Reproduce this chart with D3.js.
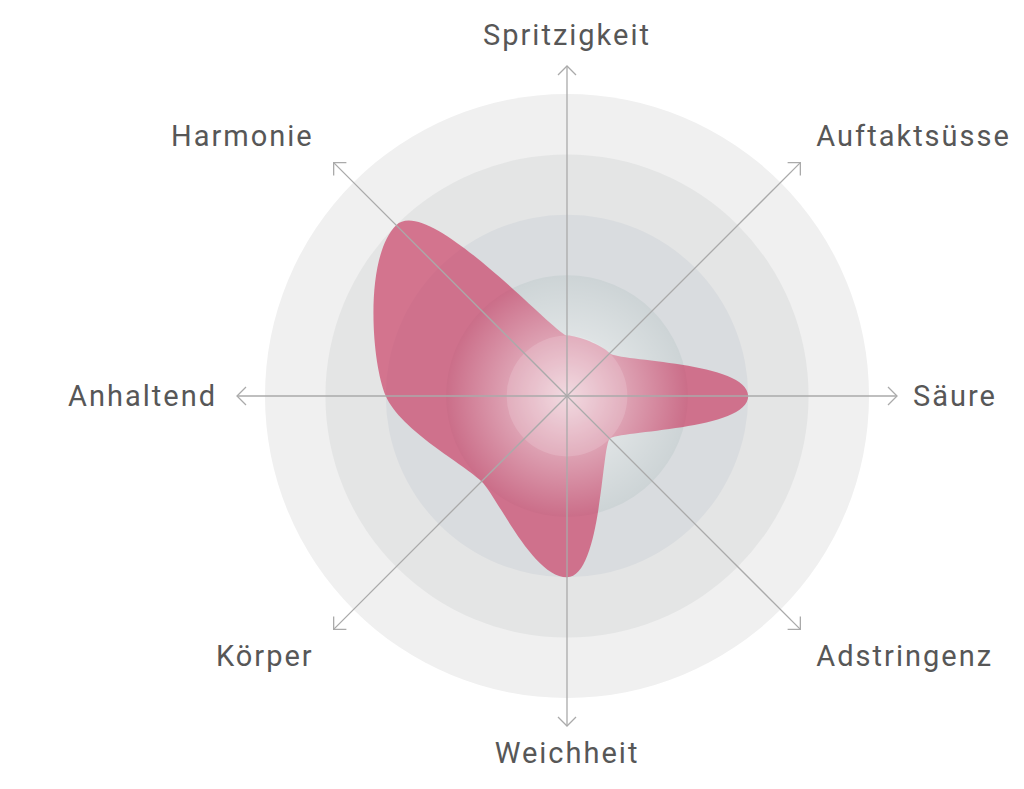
<!DOCTYPE html>
<html>
<head>
<meta charset="utf-8">
<script src="https://cdn.jsdelivr.net/npm/d3@7"></script>
<style>
  body { margin: 0; background: #fff; }
  svg { display: block; }
</style>
</head>
<body>
<svg width="1024" height="789"></svg>
<script>
// axes, clockwise from the top
var axes = ["Spritzigkeit", "Auftaktsüsse", "Säure", "Adstringenz",
            "Weichheit", "Körper", "Anhaltend", "Harmonie"];
var values = [1, 1, 3, 1, 3, 2, 3, 4];
var levels = [5, 4, 3, 2];
var levelColors = ["#f0f0f0", "#e4e5e5", "#d9dcdf", "#cdd4d6"];

var svg = d3.select("svg"),
    cx = 567, cy = 396,
    maxR = 302, axisR = 330;

var r = d3.scaleLinear().domain([0, 5]).range([0, maxR]);
var angle = d3.scaleLinear().domain([0, axes.length]).range([0, 2 * Math.PI]);

// closed spline that runs round the centre: tangents follow the circle,
// radial slope is monotone (flat at peaks and dips)
function polarClosed(context) { return new PolarClosed(context); }
function PolarClosed(context) { this._context = context; }
PolarClosed.prototype = {
  areaStart: function() {}, areaEnd: function() {},
  lineStart: function() { this._pts = []; },
  point: function(x, y) { this._pts.push([+x, +y]); },
  lineEnd: function() {
    var p = this._pts, n = p.length, f = 0.72, step = 2 * Math.PI / n, ctx = this._context;
    var rad = p.map(d => Math.hypot(d[0], d[1])),
        th = p.map(d => Math.atan2(d[0], -d[1]));
    var c = p.map((d, i) => {
      var s0 = rad[i] - rad[(i + n - 1) % n],
          s1 = rad[(i + 1) % n] - rad[i],
          dr = (Math.sign(s0) + Math.sign(s1)) * Math.min(Math.abs(s0), Math.abs(s1), 0.25 * Math.abs(s0 + s1)) || 0,
          t = th[i];
      return [f / 3 * (rad[i] * step * Math.cos(t) + dr * Math.sin(t)),
              f / 3 * (rad[i] * step * Math.sin(t) - dr * Math.cos(t))];
    });
    ctx.moveTo(p[0][0], p[0][1]);
    for (var i = 0; i < n; i++) {
      var j = (i + 1) % n;
      ctx.bezierCurveTo(p[i][0] + c[i][0], p[i][1] + c[i][1],
                        p[j][0] - c[j][0], p[j][1] - c[j][1],
                        p[j][0], p[j][1]);
    }
    ctx.closePath();
  }
};

var defs = svg.append("defs");
var glow = defs.append("radialGradient").attr("id", "glow");
glow.append("stop").attr("offset", "0%").attr("stop-color", "#fff").attr("stop-opacity", 0.7);
glow.append("stop").attr("offset", "50%").attr("stop-color", "#fff").attr("stop-opacity", 0.35);
glow.append("stop").attr("offset", "100%").attr("stop-color", "#fff").attr("stop-opacity", 0);

defs.append("marker")
    .attr("id", "arrow")
    .attr("viewBox", "-10 -10 20 20")
    .attr("refX", 0).attr("refY", 0)
    .attr("markerWidth", 20).attr("markerHeight", 20)
    .attr("markerUnits", "userSpaceOnUse")
    .attr("orient", "auto")
  .append("path")
    .attr("d", "M-9,-9L0,0L-9,9")
    .attr("fill", "none")
    .attr("stroke", "#aaa")
    .attr("stroke-width", 1.3);

var g = svg.append("g").attr("transform", `translate(${cx},${cy})`);

// background rings
g.selectAll("circle.level")
    .data(levels)
    .enter().append("circle")
    .attr("class", "level")
    .attr("r", d => r(d))
    .attr("fill", (d, i) => levelColors[i]);

// the shape
var line = d3.lineRadial()
    .angle((d, i) => angle(i))
    .radius(d => r(d))
    .curve(polarClosed);

g.append("path")
    .datum(values)
    .attr("d", line)
    .attr("fill", "#c9385f")
    .attr("fill-opacity", 0.65);

// white glow in the middle
g.append("circle")
    .attr("r", r(2))
    .attr("fill", "url(#glow)");
g.append("circle")
    .attr("r", r(1))
    .attr("fill", "#fff")
    .attr("fill-opacity", 0.15);

// axis lines with arrows
g.selectAll("line.axis")
    .data(axes)
    .enter().append("line")
    .attr("class", "axis")
    .attr("x1", 0).attr("y1", 0)
    .attr("x2", (d, i) => Math.sin(angle(i)) * axisR)
    .attr("y2", (d, i) => -Math.cos(angle(i)) * axisR)
    .attr("stroke", "#aaa")
    .attr("stroke-width", 1.3)
    .attr("marker-end", "url(#arrow)");

// labels
g.selectAll("text.label")
    .data(axes)
    .enter().append("text")
    .attr("class", "label")
    .attr("x", (d, i) => {
      var s = Math.sin(angle(i));
      var dx = s > 0.1 ? 16 : s < -0.1 ? -20 : 0;
      return s * axisR + dx;
    })
    .attr("y", (d, i) => {
      var c = Math.cos(angle(i));
      var dy = c > 0.9 ? -31 : c > 0.1 ? -27 : c < -0.1 ? 27 : 0;
      return -c * axisR + dy;
    })
    .attr("text-anchor", (d, i) => {
      var s = Math.sin(angle(i));
      return s > 0.1 ? "start" : s < -0.1 ? "end" : "middle";
    })
    .attr("dominant-baseline", "central")
    .attr("font-family", "Roboto, sans-serif")
    .attr("font-size", 29)
    .attr("letter-spacing", 2)
    .attr("fill", "#575757")
    .text(d => d);
</script>
</body>
</html>
